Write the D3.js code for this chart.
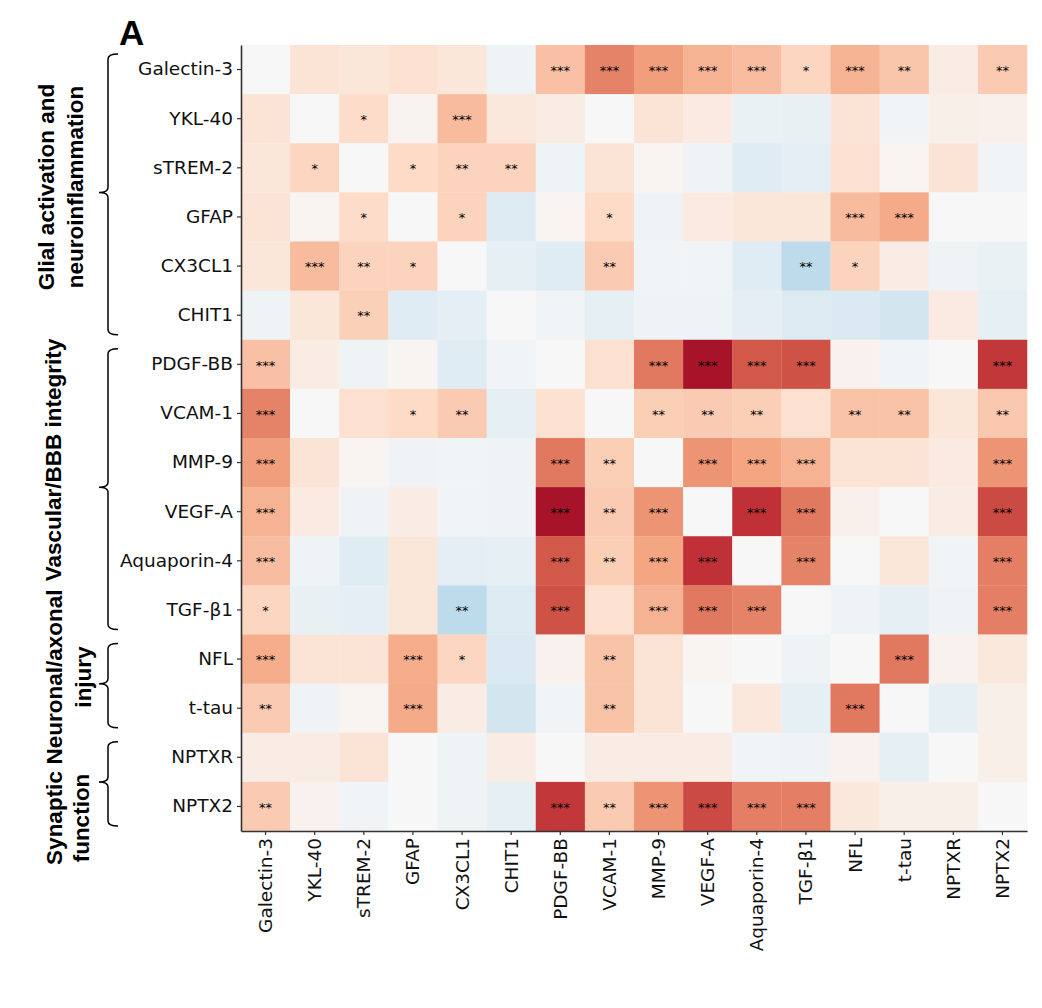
<!DOCTYPE html>
<html>
<head>
<meta charset="utf-8">
<script src="https://cdn.jsdelivr.net/npm/d3@7"></script>
<style>
body { margin: 0; background: #fff; }
</style>
</head>
<body>
<svg id="chart" width="1042" height="1008"></svg>
<script>
// marker names (rows and columns share the same order)
var markers = ["Galectin-3", "YKL-40", "sTREM-2", "GFAP", "CX3CL1", "CHIT1", "PDGF-BB", "VCAM-1",
  "MMP-9", "VEGF-A", "Aquaporin-4", "TGF-β1", "NFL", "t-tau", "NPTXR", "NPTX2"];

// correlation coefficients (diagonal left blank = 0)
var corr = [
  [0, 0.14, 0.12, 0.16, 0.12, -0.05, 0.30, 0.50, 0.42, 0.35, 0.31, 0.22, 0.35, 0.28, 0.08, 0.26],
  [0.14, 0, 0.19, 0.03, 0.32, 0.11, 0.08, 0, 0.14, 0.09, -0.07, -0.08, 0.14, -0.03, 0.06, 0.05],
  [0.12, 0.22, 0, 0.20, 0.23, 0.23, -0.05, 0.14, 0.02, -0.04, -0.12, -0.10, 0.16, 0.02, 0.14, -0.03],
  [0.14, 0.02, 0.19, 0, 0.23, -0.13, 0.02, 0.20, -0.04, 0.09, 0.12, 0.12, 0.32, 0.38, 0, 0],
  [0.12, 0.32, 0.23, 0.23, 0, -0.09, -0.12, 0.26, -0.03, -0.03, -0.12, -0.26, 0.23, 0.08, -0.05, -0.07],
  [-0.05, 0.12, 0.24, -0.12, -0.10, 0, -0.03, -0.09, -0.04, -0.05, -0.10, -0.14, -0.15, -0.19, 0.09, -0.09],
  [0.30, 0.08, -0.05, 0.02, -0.12, -0.03, 0, 0.16, 0.53, 0.83, 0.62, 0.64, 0.04, -0.03, 0, 0.71],
  [0.50, 0, 0.16, 0.20, 0.26, -0.09, 0.16, 0, 0.25, 0.26, 0.25, 0.16, 0.29, 0.29, 0.12, 0.27],
  [0.42, 0.14, 0.02, -0.04, -0.03, -0.04, 0.53, 0.25, 0, 0.45, 0.40, 0.35, 0.14, 0.14, 0.09, 0.45],
  [0.35, 0.09, -0.04, 0.08, -0.03, -0.05, 0.83, 0.26, 0.45, 0, 0.73, 0.53, 0.05, 0, 0.08, 0.66],
  [0.31, -0.05, -0.12, 0.12, -0.10, -0.09, 0.62, 0.25, 0.40, 0.73, 0, 0.50, 0, 0.12, -0.03, 0.51],
  [0.22, -0.08, -0.10, 0.12, -0.26, -0.14, 0.64, 0.16, 0.35, 0.53, 0.50, 0, -0.05, -0.09, -0.04, 0.51],
  [0.37, 0.14, 0.14, 0.37, 0.22, -0.15, 0.04, 0.29, 0.14, 0.02, 0, -0.05, 0, 0.53, 0.04, 0.11],
  [0.26, -0.04, 0.02, 0.38, 0.08, -0.19, -0.03, 0.29, 0.14, 0, 0.11, -0.09, 0.53, 0, -0.09, 0.06],
  [0.08, 0.08, 0.14, 0, -0.05, 0.08, 0, 0.08, 0.08, 0.08, -0.03, -0.04, 0.04, -0.09, 0, 0.06],
  [0.26, 0.04, -0.03, 0, -0.05, -0.09, 0.71, 0.26, 0.45, 0.66, 0.51, 0.51, 0.11, 0.06, 0.06, 0]
];

// significance marks
var stars = [
  ["", "", "", "", "", "", "***", "***", "***", "***", "***", "*", "***", "**", "", "**"],
  ["", "", "*", "", "***", "", "", "", "", "", "", "", "", "", "", ""],
  ["", "*", "", "*", "**", "**", "", "", "", "", "", "", "", "", "", ""],
  ["", "", "*", "", "*", "", "", "*", "", "", "", "", "***", "***", "", ""],
  ["", "***", "**", "*", "", "", "", "**", "", "", "", "**", "*", "", "", ""],
  ["", "", "**", "", "", "", "", "", "", "", "", "", "", "", "", ""],
  ["***", "", "", "", "", "", "", "", "***", "***", "***", "***", "", "", "", "***"],
  ["***", "", "", "*", "**", "", "", "", "**", "**", "**", "", "**", "**", "", "**"],
  ["***", "", "", "", "", "", "***", "**", "", "***", "***", "***", "", "", "", "***"],
  ["***", "", "", "", "", "", "***", "**", "***", "", "***", "***", "", "", "", "***"],
  ["***", "", "", "", "", "", "***", "**", "***", "***", "", "***", "", "", "", "***"],
  ["*", "", "", "", "**", "", "***", "", "***", "***", "***", "", "", "", "", "***"],
  ["***", "", "", "***", "*", "", "", "**", "", "", "", "", "", "***", "", ""],
  ["**", "", "", "***", "", "", "", "**", "", "", "", "", "***", "", "", ""],
  ["", "", "", "", "", "", "", "", "", "", "", "", "", "", "", ""],
  ["**", "", "", "", "", "", "***", "**", "***", "***", "***", "***", "", "", "", ""]
];

// marker groups shown with braces on the left
var groupNames = [
  ["Glial activation and", "neuroinflammation"],
  ["Vascular/BBB integrity"],
  ["Neuronal/axonal", "injury"],
  ["Synaptic", "function"]
];
var groupFirst = ["Galectin-3", "PDGF-BB", "NFL", "NPTXR"];
var groupLast = ["CHIT1", "TGF-β1", "t-tau", "NPTX2"];

// RdBu_r, -1..1
var rdbu = ["#053061", "#2166ac", "#4393c3", "#92c5de", "#d1e5f0", "#f7f7f7",
  "#fddbc7", "#f4a582", "#d6604d", "#b2182b", "#67001f"];

var svg = d3.select("#chart");
var gridLeft = 241, gridTop = 45, gridSize = 786;

var x = d3.scaleBand().domain(markers).range([gridLeft, gridLeft + gridSize]);
var y = d3.scaleBand().domain(markers).range([gridTop, gridTop + gridSize]);
var color = d3.scaleLinear().domain(d3.range(11).map(i => -1 + i * 0.2)).range(rdbu).clamp(true);

var cells = [];
corr.forEach((row, i) => row.forEach((v, j) => cells.push({r: markers[i], c: markers[j], v: v, s: stars[i][j]})));

svg.append("g").selectAll("rect")
  .data(cells)
  .join("rect")
  .attr("x", d => x(d.c))
  .attr("y", d => y(d.r))
  .attr("width", x.bandwidth() + 0.3)
  .attr("height", y.bandwidth() + 0.3)
  .attr("fill", d => color(d.v));

svg.append("g").selectAll("text")
  .data(cells.filter(d => d.s))
  .join("text")
  .attr("x", d => x(d.c) + x.bandwidth() / 2)
  .attr("y", d => y(d.r) + y.bandwidth() / 2)
  .attr("dy", "0.4em")
  .attr("text-anchor", "middle")
  .style("font-family", "DejaVu Sans")
  .style("font-size", "13px")
  .attr("fill", "#000")
  .text(d => d.s);

// axes
var yAxis = svg.append("g")
  .attr("transform", `translate(${gridLeft},0)`)
  .call(d3.axisLeft(y).tickSize(4).tickSizeOuter(0).tickPadding(4));
var xAxis = svg.append("g")
  .attr("transform", `translate(0,${gridTop + gridSize})`)
  .call(d3.axisBottom(x).tickSize(4).tickSizeOuter(0).tickPadding(4));

xAxis.selectAll(".tick text")
  .attr("transform", "rotate(-90)")
  .attr("text-anchor", "end")
  .attr("x", -7)
  .attr("y", 0)
  .attr("dy", "0.35em");

[xAxis, yAxis].forEach(ax => {
  ax.selectAll("text").style("font-family", "DejaVu Sans").style("font-size", "18.5px").attr("fill", "#111");
  ax.select(".domain").attr("stroke", "#333").attr("stroke-width", 1.6);
  ax.selectAll(".tick line").attr("stroke", "#333").attr("stroke-width", 1.2);
});

// braces
var braceX = 108, braceEnd = 118, braceTip = 99;
var labelY = [187, 460, 677, 818];
var labelX = [[54, 83], [61], [62, 91], [62, 89]];

groupNames.forEach((lines, g) => {
  var y0 = y(groupFirst[g]) + 9;
  var y1 = y(groupLast[g]) + y.bandwidth() - 5;
  var ym = (y(groupFirst[g]) + y(groupLast[g]) + y.bandwidth()) / 2;
  var p = d3.path();
  p.moveTo(braceEnd, y0);
  p.quadraticCurveTo(braceX, y0, braceX, y0 + 5);
  p.lineTo(braceX, ym - 5);
  p.quadraticCurveTo(braceX, ym, braceTip, ym);
  p.quadraticCurveTo(braceX, ym, braceX, ym + 5);
  p.lineTo(braceX, y1 - 5);
  p.quadraticCurveTo(braceX, y1, braceEnd, y1);
  svg.append("path")
    .attr("d", p.toString())
    .attr("fill", "none")
    .attr("stroke", "#000")
    .attr("stroke-width", 1.5);

  lines.forEach((t, k) => {
    svg.append("text")
      .attr("transform", `translate(${labelX[g][k]},${labelY[g]}) rotate(-90)`)
      .attr("text-anchor", "middle")
      .style("font-family", "Liberation Sans, Arial, sans-serif")
      .style("font-weight", "bold")
      .style("font-size", "22.5px")
      .text(t);
  });
});

// panel letter
svg.append("text")
  .attr("x", 119)
  .attr("y", 45)
  .style("font-family", "Liberation Sans, Arial, sans-serif")
  .style("font-weight", "bold")
  .style("font-size", "35px")
  .text("A");
</script>
</body>
</html>
